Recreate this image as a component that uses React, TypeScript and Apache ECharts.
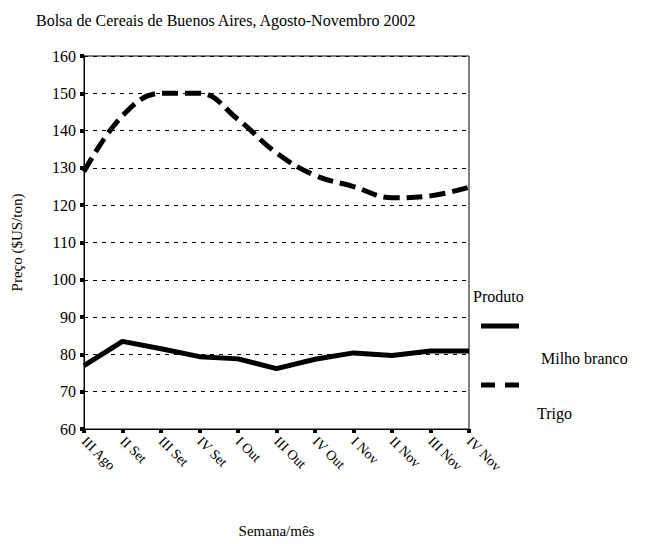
import React, { useEffect, useRef } from "react";
import * as echarts from "echarts";

const title = "Bolsa de Cereais de Buenos Aires, Agosto-Novembro 2002";
const categories = ["III Ago", "II Set", "III Set", "IV Set", "I Out", "III Out", "IV Out", "I Nov", "II Nov", "III Nov", "IV Nov"];
const milhoName = "Milho branco";
const milho = [77, 83.5, 81.5, 79.4, 78.8, 76.2, 78.7, 80.4, 79.7, 80.9, 80.9];
const trigoName = "Trigo";
const trigo = [129, 144, 150, 150, 143, 134, 128, 125, 122, 122.5, 124.8];
const yName = "Preço ($US/ton)";
const xName = "Semana/mês";
const legendTitle = "Produto";

const FONT = "Liberation Serif";

export default function App() {
  const ref = useRef<HTMLDivElement>(null);
  useEffect(() => {
    const chart = echarts.init(ref.current!, null, { renderer: "svg" });
    chart.setOption({
      animation: false,
      backgroundColor: "#fff",
      textStyle: { fontFamily: FONT, color: "#000" },
      title: {
        text: title,
        left: 31,
        top: 7,
        textStyle: { fontFamily: FONT, fontSize: 16, fontWeight: "normal", color: "#000" },
      },
      grid: {
        left: 84,
        right: 176,
        top: 56,
        bottom: 115,
        show: true,
        borderColor: "#000",
        borderWidth: 1,
        backgroundColor: "transparent",
      },
      xAxis: {
        type: "category",
        data: categories,
        boundaryGap: false,
        name: xName,
        nameLocation: "middle",
        nameGap: 94,
        nameTextStyle: { fontFamily: FONT, fontSize: 15, color: "#000" },
        axisLine: { lineStyle: { color: "#000", width: 1 } },
        axisTick: { show: true, length: 4, lineStyle: { color: "#000", width: 4 } },
        axisLabel: {
          rotate: -45,
          interval: 0,
          margin: 10,
          fontFamily: FONT,
          fontSize: 14,
          color: "#000",
        },
        splitLine: { show: false },
      },
      yAxis: {
        type: "value",
        min: 60,
        max: 160,
        interval: 10,
        name: yName,
        nameLocation: "middle",
        nameGap: 60,
        nameTextStyle: { fontFamily: FONT, fontSize: 15, color: "#000" },
        axisLine: { show: true, lineStyle: { color: "#000", width: 1 } },
        axisTick: { show: true, length: 4, lineStyle: { color: "#000", width: 4 } },
        axisLabel: { fontFamily: FONT, fontSize: 16, color: "#000", margin: 8 },
        splitLine: { show: true, lineStyle: { color: "#000", width: 1, type: [4, 5] } },
      },
      series: [
        {
          name: milhoName,
          type: "line",
          data: milho,
          showSymbol: false,
          symbol: "none",
          lineStyle: { color: "#000", width: 5 },
        },
        {
          name: trigoName,
          type: "line",
          data: trigo,
          smooth: 0.4,
          showSymbol: false,
          symbol: "none",
          lineStyle: { color: "#000", width: 5, type: [16, 7] },
        },
      ],
      graphic: [
        { type: "text", left: 473, top: 288, style: { text: legendTitle, fontFamily: FONT, fontSize: 16, fill: "#000" } },
        { type: "line", shape: { x1: 481, y1: 326, x2: 519, y2: 326 }, style: { stroke: "#000", lineWidth: 5 } },
        { type: "text", left: 541, top: 350, style: { text: milhoName, fontFamily: FONT, fontSize: 16, fill: "#000" } },
        { type: "line", shape: { x1: 481, y1: 385, x2: 519, y2: 385 }, style: { stroke: "#000", lineWidth: 5, lineDash: [14, 10] } },
        { type: "text", left: 537, top: 405, style: { text: trigoName, fontFamily: FONT, fontSize: 16, fill: "#000" } },
      ],
    });
    return () => chart.dispose();
  }, []);
  return <div ref={ref} style={{ width: 645, height: 544, position: "absolute", left: 0, top: 0 }} />;
}
